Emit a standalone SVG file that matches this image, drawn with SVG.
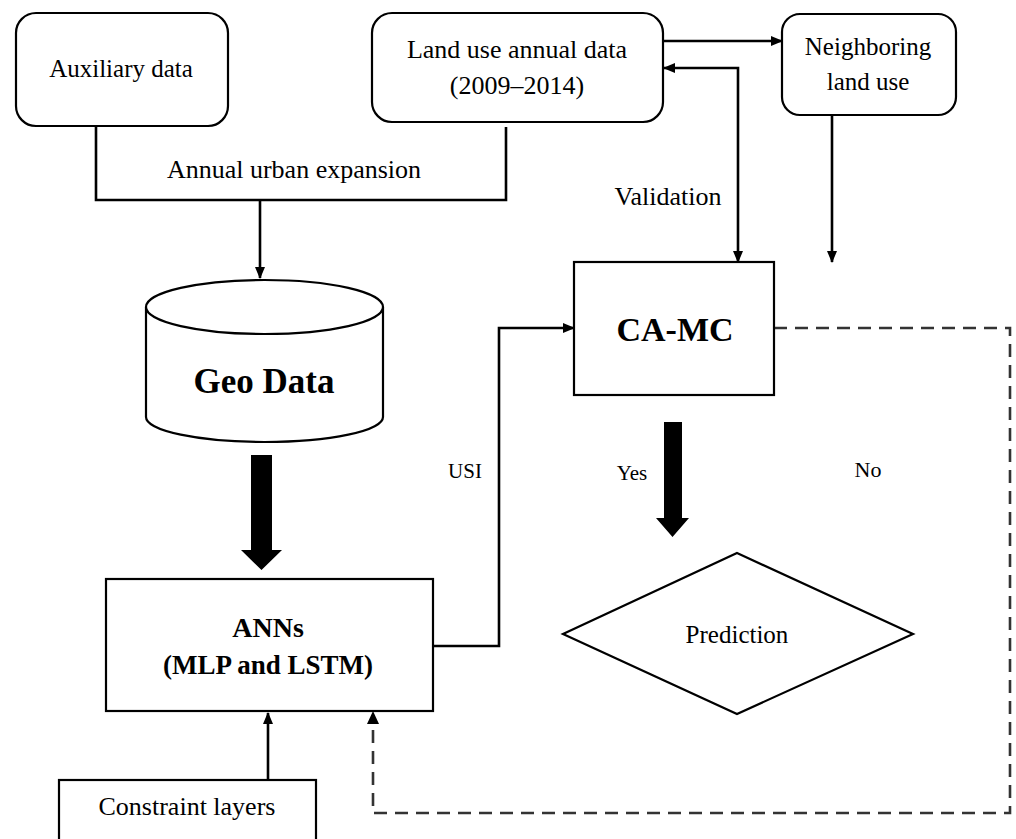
<svg xmlns="http://www.w3.org/2000/svg" width="1016" height="839" viewBox="0 0 1016 839">
<style>
.box{fill:#fff;stroke:#000;stroke-width:2.2}
.t{font-family:"Liberation Serif",serif;fill:#000;text-anchor:middle}
.b{font-weight:bold}
.c{fill:none;stroke:#000;stroke-width:2.6}
.d{fill:none;stroke:#333;stroke-width:2.6;stroke-dasharray:13 8}
.thick{fill:#000;stroke:none}
</style>
<defs>
<marker id="ah" markerUnits="userSpaceOnUse" viewBox="0 0 12 12" refX="11" refY="6" markerWidth="12" markerHeight="12" orient="auto-start-reverse">
<path d="M0,1 L12,6 L0,11 Z" fill="#000"/>
</marker>
</defs>
<rect width="1016" height="839" fill="#fff"/>
<g id="connectors">
<path class="c" d="M96,127 V200 H506 V127"/>
<path class="c" d="M260,200 V278" marker-end="url(#ah)"/>
<path class="thick" d="M251,455 H272 V550 H282 L261.5,570 L241,550 H251 Z"/>
<path class="c" d="M268,780 V713" marker-end="url(#ah)"/>
<path class="c" d="M433,646 H499 V328 H574" marker-end="url(#ah)"/>
<path class="c" d="M663,41 H782" marker-end="url(#ah)"/>
<path class="c" d="M664,68 H738 V262" marker-start="url(#ah)" marker-end="url(#ah)"/>
<path class="c" d="M832,115 V262" marker-end="url(#ah)"/>
<path class="thick" d="M664,422 H682 V518 H689 L672.5,537 L656,518 H664 Z"/>
<path class="d" d="M774,328 H1010 V813 H373 V722"/>
<path d="M367,724 L373,711 L379,724 Z" fill="#000"/>
<text class="t" x="294" y="178" font-size="26">Annual urban expansion</text>
<text class="t" x="668" y="205" font-size="26">Validation</text>
<text class="t" x="465" y="478" font-size="21">USI</text>
<text class="t" x="632" y="480" font-size="21">Yes</text>
<text class="t" x="868" y="477" font-size="22">No</text>
</g>
<g id="auxiliary">
<rect class="box" x="16" y="13" width="212" height="113" rx="20"/>
<text class="t" x="121" y="77" font-size="25">Auxiliary data</text>
</g>
<g id="landuse">
<rect class="box" x="372" y="13" width="291" height="109" rx="20"/>
<text class="t" x="517" y="58" font-size="26">Land use annual data</text>
<text class="t" x="517" y="94" font-size="26">(2009–2014)</text>
</g>
<g id="neighboring">
<rect class="box" x="782" y="14" width="174" height="101" rx="18"/>
<text class="t" x="868" y="55" font-size="25">Neighboring</text>
<text class="t" x="868" y="90" font-size="25">land use</text>
</g>
<g id="geodata">
<path class="box" d="M146,307 V417 A118.5,25 0 0 0 383,417 V307"/>
<ellipse class="box" cx="264.5" cy="307" rx="118.5" ry="27"/>
<text class="t b" x="264" y="393" font-size="35">Geo Data</text>
</g>
<g id="anns">
<rect class="box" x="106" y="579" width="327" height="132"/>
<text class="t b" x="268" y="637" font-size="28">ANNs</text>
<text class="t b" x="268" y="674" font-size="27">(MLP and LSTM)</text>
</g>
<g id="constraint">
<rect class="box" x="59" y="780" width="257" height="70"/>
<text class="t" x="187" y="815" font-size="26">Constraint layers</text>
</g>
<g id="camc">
<rect class="box" x="574" y="262" width="200" height="133"/>
<text class="t b" x="675" y="341" font-size="34">CA-MC</text>
</g>
<g id="prediction">
<polygon class="box" points="737,553 913,634 737,714 563,634"/>
<text class="t" x="737" y="643" font-size="25">Prediction</text>
</g>
</svg>
